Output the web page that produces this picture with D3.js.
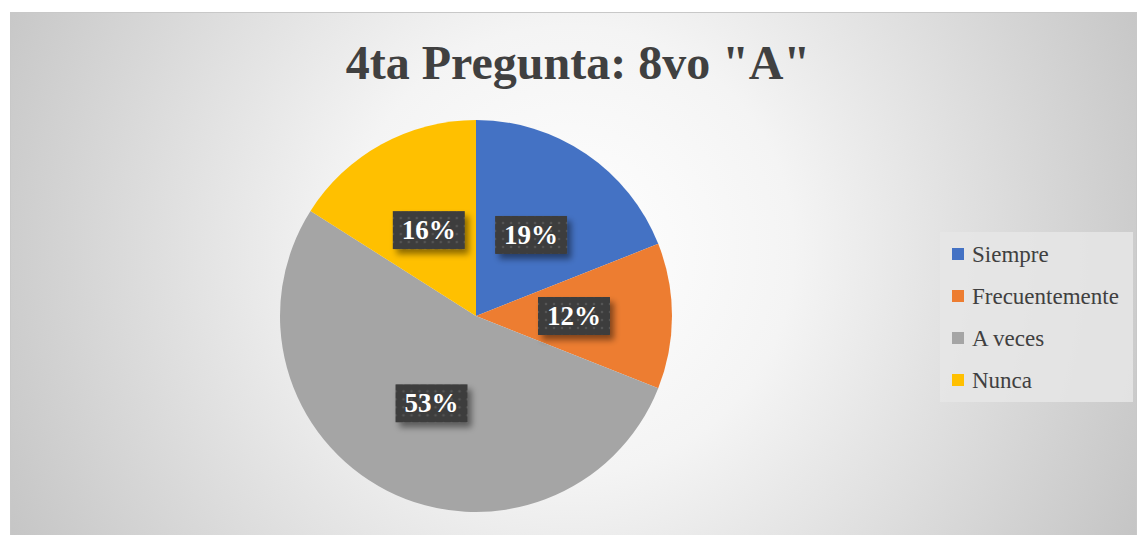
<!DOCTYPE html>
<html>
<head>
    <script src="https://d3js.org/d3.v7.min.js"></script>
    <style>
        body {margin: 0; background: white;}
    </style>
</head>
<body>
    <svg width="1138" height="535"></svg>
    <script>
        // Data
        let categories = ["Siempre", "Frecuentemente", "A veces", "Nunca"];
        let values = [19, 12, 53, 16];
        let colors = ["#4472C4", "#ED7D31", "#A5A5A5", "#FFC000"];
        let title = '4ta Pregunta: 8vo "A"';
        let font = "'Liberation Serif'";

        let svg = d3.select("svg");
        let defs = svg.append("defs");

        // Background gradient like the Office style
        let bg = defs.append("radialGradient").attr("id", "bg")
            .attr("gradientUnits", "userSpaceOnUse")
            .attr("cx", 570).attr("cy", 250).attr("r", 640);
        bg.append("stop").attr("offset", "0%").attr("stop-color", "#ffffff");
        bg.append("stop").attr("offset", "35%").attr("stop-color", "#f4f4f4");
        bg.append("stop").attr("offset", "100%").attr("stop-color", "#c4c4c4");

        // Dotted dark pattern for label boxes
        let pat = defs.append("pattern").attr("id", "dots")
            .attr("width", 8).attr("height", 8).attr("patternUnits", "userSpaceOnUse");
        pat.append("rect").attr("width", 8).attr("height", 8).attr("fill", "#3d3d3d");
        pat.append("circle").attr("cx", 4).attr("cy", 4).attr("r", 1.3).attr("fill", "#555");

        let shadow = defs.append("filter").attr("id", "shadow")
            .attr("x", "-30%").attr("y", "-30%").attr("width", "170%").attr("height", "180%");
        shadow.append("feDropShadow").attr("dx", 4).attr("dy", 5).attr("stdDeviation", 3)
            .attr("flood-color", "#000").attr("flood-opacity", 0.45);

        svg.append("rect")
            .attr("x", 10.5).attr("y", 12.5).attr("width", 1126).attr("height", 530)
            .attr("fill", "url(#bg)").attr("stroke", "#c8c8c8");

        svg.append("text")
            .attr("x", 578).attr("y", 79)
            .attr("text-anchor", "middle")
            .attr("font-family", font)
            .attr("font-size", 48).attr("font-weight", "bold")
            .attr("fill", "#404040")
            .text(title);

        // Pie
        let cx = 476, cy = 316, radius = 196;
        let pie = d3.pie().sort(null).value(d => d)(values);
        let arc = d3.arc().innerRadius(0).outerRadius(radius);
        let labelArc = d3.arc().innerRadius(radius * 0.5).outerRadius(radius * 0.5);

        let g = svg.append("g").attr("transform", `translate(${cx},${cy})`);
        g.selectAll(".slice")
            .data(pie)
            .enter()
            .append("path")
            .attr("class", "slice")
            .attr("d", arc)
            .attr("fill", (d, i) => colors[i]);

        let labels = g.selectAll(".lbl")
            .data(pie)
            .enter()
            .append("g")
            .attr("class", "lbl")
            .attr("transform", d => {
                let c = labelArc.centroid(d);
                return `translate(${c[0]},${c[1]})`;
            });
        labels.append("rect")
            .attr("x", -36).attr("y", -19).attr("width", 72).attr("height", 38)
            .attr("fill", "url(#dots)")
            .attr("filter", "url(#shadow)");
        labels.append("text")
            .attr("text-anchor", "middle")
            .attr("dy", 9)
            .attr("font-family", font)
            .attr("font-size", 27).attr("font-weight", "bold")
            .attr("fill", "white")
            .text(d => d.data + "%");

        // Legend
        let legend = svg.append("g");
        legend.append("rect")
            .attr("x", 940).attr("y", 232).attr("width", 193).attr("height", 170)
            .attr("fill", "#e6e6e6").attr("opacity", 0.85);
        let items = legend.selectAll(".item")
            .data(categories)
            .enter()
            .append("g")
            .attr("class", "item")
            .attr("transform", (d, i) => `translate(952,${254 + i * 42})`);
        items.append("rect")
            .attr("x", 0).attr("y", -6).attr("width", 12).attr("height", 12)
            .attr("fill", (d, i) => colors[i]);
        items.append("text")
            .attr("x", 20).attr("y", 7.5)
            .attr("font-family", font)
            .attr("font-size", 23)
            .attr("fill", "#404040")
            .text(d => d);
    </script>
</body>
</html>
